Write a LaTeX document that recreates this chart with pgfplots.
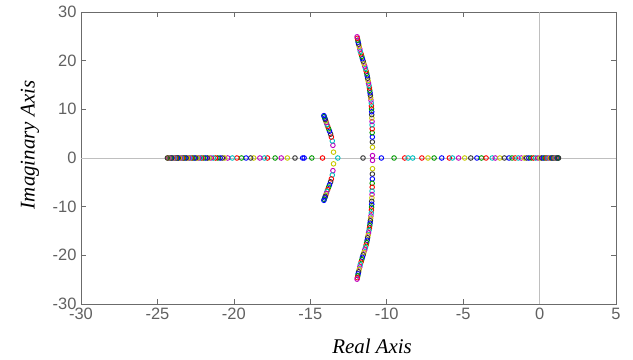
\documentclass[border=0pt]{standalone}
\usepackage{pgfplots}
\usepackage{pgfplotstable}
\pgfplotsset{compat=1.18}
\usepackage{fontspec}
\setmainfont{Liberation Sans}
\newfontfamily\serifit{Liberation Serif}
\definecolor{mb}{rgb}{0,0,1}
\definecolor{mg}{rgb}{0,0.6,0}
\definecolor{mr}{rgb}{1,0,0}
\definecolor{mc}{rgb}{0,0.75,0.75}
\definecolor{mm}{rgb}{0.75,0,0.75}
\definecolor{my}{rgb}{0.78,0.78,0}
\definecolor{mk}{rgb}{0.2,0.2,0.2}
\definecolor{axisgray}{rgb}{0.42,0.42,0.42}
\definecolor{labelgray}{rgb}{0.38,0.38,0.38}
\definecolor{zerogray}{rgb}{0.75,0.75,0.75}

% left real-axis branch
\pgfplotstableread{
x y c
-13.20 0 c
-14.20 0 r
-14.90 0 g
-15.40 0 b
-15.50 0 b
-16.00 0 k
-16.50 0 y
-16.90 0 m
-17.30 0 g
-17.80 0 r
-18.00 0 c
-18.30 0 m
-18.70 0 y
-18.90 0 k
-19.20 0 b
-19.50 0 g
-19.80 0 r
-20.10 0 c
-20.40 0 m
-20.60 0 y
-20.75 0 k
-20.90 0 b
-21.05 0 g
-21.20 0 r
-21.35 0 c
-21.50 0 m
-21.62 0 y
-21.74 0 k
-21.86 0 b
-21.98 0 g
-22.10 0 r
-22.20 0 c
-22.30 0 m
-22.40 0 y
-22.50 0 k
-22.60 0 b
-22.70 0 g
-22.80 0 r
-22.88 0 c
-22.96 0 m
-23.04 0 y
-23.12 0 k
-23.20 0 b
-23.28 0 g
-23.36 0 r
-23.43 0 c
-23.50 0 m
-23.57 0 y
-23.64 0 k
-23.70 0 b
-23.76 0 g
-23.82 0 r
-23.88 0 c
-23.94 0 m
-24.00 0 y
-24.05 0 k
-24.10 0 b
-24.15 0 g
-24.20 0 r
-24.24 0 c
-24.28 0 m
-24.32 0 y
-24.35 0 k
}\leftreal

% right real-axis branch
\pgfplotstableread{
x y c
-11.55 0 k
-10.35 0 b
-9.52 0 g
-8.82 0 r
-8.60 0 c
-8.30 0 c
-7.70 0 r
-7.30 0 y
-6.90 0 g
-6.40 0 b
-5.90 0 r
-5.70 0 c
-5.30 0 m
-4.90 0 y
-4.50 0 k
-4.10 0 b
-3.80 0 g
-3.50 0 r
-3.10 0 c
-2.90 0 m
-2.60 0 y
-2.30 0 k
-2.00 0 b
-1.80 0 g
-1.60 0 r
-1.40 0 c
-1.20 0 m
-1.00 0 y
-0.85 0 k
-0.70 0 b
-0.55 0 g
-0.40 0 r
-0.25 0 c
-0.10 0 m
0.02 0 y
0.14 0 k
0.25 0 b
0.35 0 g
0.45 0 r
0.54 0 c
0.62 0 m
0.70 0 y
0.77 0 k
0.84 0 b
0.90 0 g
0.96 0 r
1.01 0 c
1.06 0 m
1.10 0 y
1.14 0 k
1.18 0 b
1.21 0 g
1.24 0 k
}\rightreal

% complex branch near -11 (upper and lower)
\pgfplotstableread{
x y c
-10.93 0.5 m
-10.93 2.2 y
-10.94 3.3 k
-10.94 4.3 b
-10.95 5.2 g
-10.95 6.0 r
-10.96 6.8 c
-10.96 7.5 m
-10.97 8.2 y
-10.98 8.9 k
-10.98 9.5 b
-10.99 10.1 g
-11.00 10.7 r
-11.01 11.3 c
-11.03 11.9 m
-11.05 12.4 y
-11.07 12.9 k
-11.09 13.4 b
-11.11 13.9 g
-11.13 14.4 r
-11.16 14.9 c
-11.19 15.4 m
-11.22 15.9 y
-11.25 16.4 k
-11.28 16.9 b
-11.31 17.4 g
-11.35 17.9 r
-11.39 18.4 c
-11.44 18.9 m
-11.49 19.4 y
-11.54 19.9 k
-11.59 20.4 b
-11.63 20.9 g
-11.68 21.4 r
-11.73 21.9 c
-11.76 22.4 m
-11.80 22.9 y
-11.84 23.4 k
-11.87 23.8 b
-11.89 24.2 g
-11.92 24.6 r
-11.94 24.9 m
-10.93 -0.5 m
-10.93 -2.2 y
-10.94 -3.3 k
-10.94 -4.3 b
-10.95 -5.2 g
-10.95 -6.0 r
-10.96 -6.8 c
-10.96 -7.5 m
-10.97 -8.2 y
-10.98 -8.9 k
-10.98 -9.5 b
-10.99 -10.1 g
-11.00 -10.7 r
-11.01 -11.3 c
-11.03 -11.9 m
-11.05 -12.4 y
-11.07 -12.9 k
-11.09 -13.4 b
-11.11 -13.9 g
-11.13 -14.4 r
-11.16 -14.9 c
-11.19 -15.4 m
-11.22 -15.9 y
-11.25 -16.4 k
-11.28 -16.9 b
-11.31 -17.4 g
-11.35 -17.9 r
-11.39 -18.4 c
-11.44 -18.9 m
-11.49 -19.4 y
-11.54 -19.9 k
-11.59 -20.4 b
-11.63 -20.9 g
-11.68 -21.4 r
-11.73 -21.9 c
-11.76 -22.4 m
-11.80 -22.9 y
-11.84 -23.4 k
-11.87 -23.8 b
-11.89 -24.2 g
-11.92 -24.6 r
-11.94 -24.9 m
}\bigbranch

% complex branch near -14 (upper and lower)
\pgfplotstableread{
x y c
-13.48 1.2 y
-13.52 2.6 m
-13.56 3.5 c
-13.62 4.3 r
-13.67 4.9 k
-13.74 5.5 b
-13.80 6.0 g
-13.86 6.5 r
-13.91 6.9 c
-13.95 7.3 m
-13.98 7.6 y
-14.02 7.9 k
-14.05 8.2 b
-14.09 8.5 g
-14.11 8.7 b
-13.48 -1.2 y
-13.52 -2.6 m
-13.56 -3.5 c
-13.62 -4.3 r
-13.67 -4.9 k
-13.74 -5.5 b
-13.80 -6.0 g
-13.86 -6.5 r
-13.91 -6.9 c
-13.95 -7.3 m
-13.98 -7.6 y
-14.02 -7.9 k
-14.05 -8.2 b
-14.09 -8.5 g
-14.11 -8.7 b
}\smallbranch

\begin{document}
\begin{tikzpicture}
\begin{axis}[
  scale only axis,
  width=535bp, height=292bp,
  xmin=-30, xmax=5, ymin=-30, ymax=30,
  xtick={-30,-25,...,5},
  ytick={-30,-20,...,30},
  axis line style={color=axisgray, line width=0.8pt},
  tick style={color=axisgray, line width=0.6pt},
  major tick length=5bp,
  tick align=inside,
  ticklabel style={font=\fontsize{16.5}{18}\selectfont, text=labelgray},
  /pgf/number format/assume math mode=true,
  xticklabel style={yshift=-1bp},
  yticklabel style={xshift=-1bp},
  label style={font=\serifit\itshape\fontsize{21}{24}\selectfont, text=black},
  xlabel={Real Axis},
  ylabel={Imaginary Axis},
  xlabel style={at={(axis description cs:0.544,0)}, anchor=center, yshift=-42bp},
  ylabel style={at={(axis description cs:-0.0953,0.545)}, anchor=center},
  scatter/classes={
    b={mark=o,mb}, g={mark=o,mg}, r={mark=o,mr}, c={mark=o,mc},
    m={mark=o,mm}, y={mark=o,my}, k={mark=o,mk}},
]
\addplot[zerogray, line width=0.8pt, forget plot] coordinates {(-30,0) (5,0)};
\addplot[zerogray, line width=0.8pt, forget plot] coordinates {(0,-30) (0,30)};
\addplot[scatter, only marks, mark size=2.3pt, scatter src=explicit symbolic,
  mark options={line width=0.9pt}] table[x=x, y=y, meta=c] {\leftreal};
\addplot[scatter, only marks, mark size=2.3pt, scatter src=explicit symbolic,
  mark options={line width=0.9pt}] table[x=x, y=y, meta=c] {\rightreal};
\addplot[scatter, only marks, mark size=2.3pt, scatter src=explicit symbolic,
  mark options={line width=0.9pt}] table[x=x, y=y, meta=c] {\bigbranch};
\addplot[scatter, only marks, mark size=2.3pt, scatter src=explicit symbolic,
  mark options={line width=0.9pt}] table[x=x, y=y, meta=c] {\smallbranch};
\end{axis}
\path (current axis.south west) ++(-81bp,-56bp) coordinate (bbA);
\path (current axis.north east) ++(17bp,12bp) coordinate (bbB);
\path (bbA) rectangle (bbB);
\end{tikzpicture}
\end{document}
